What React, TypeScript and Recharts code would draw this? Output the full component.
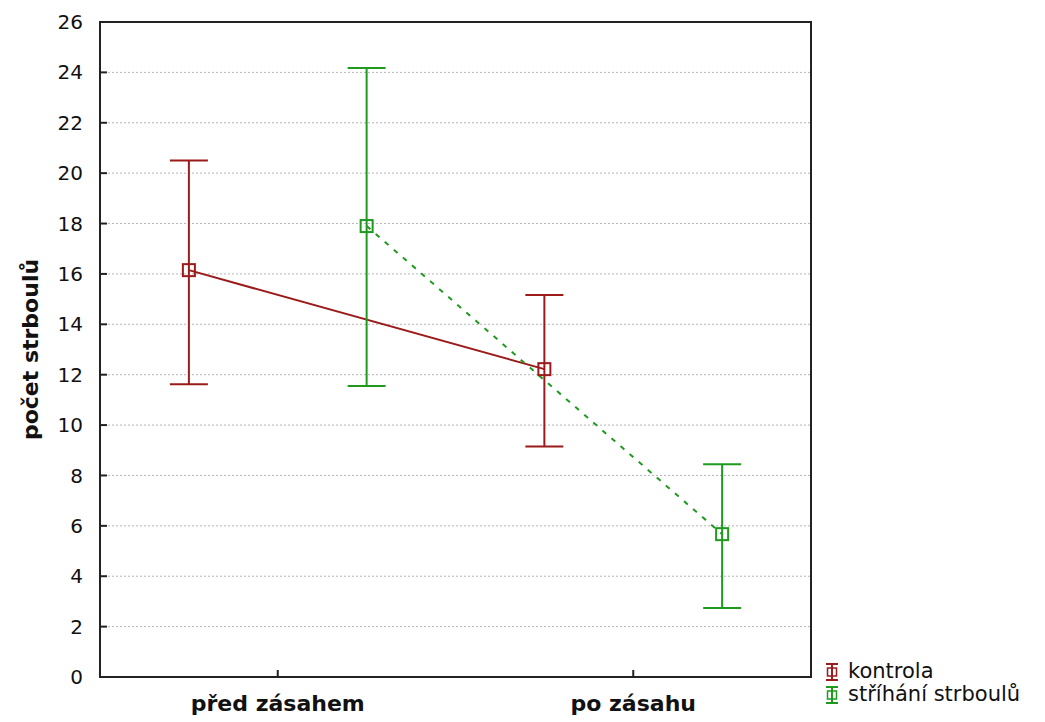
import { CartesianGrid, ComposedChart, ErrorBar, Legend, Line, ReferenceArea, XAxis, YAxis } from "recharts";

const groups = ["před zásahem", "po zásahu"];
const groupX = [1, 3];

const kontrolaMean = [16.15, 12.22];
const kontrolaLow = [11.62, 9.15];
const kontrolaHigh = [20.5, 15.16];

const strihaniMean = [17.9, 5.67];
const strihaniLow = [11.55, 2.74];
const strihaniHigh = [24.17, 8.45];

const yTicks = [0, 2, 4, 6, 8, 10, 12, 14, 16, 18, 20, 22, 24, 26];

const RED = "#9b1b1b";
const GREEN = "#1f9a1f";
const FONT = "'DejaVu Sans', Verdana, sans-serif";

// skupiny jsou posunuty o pul jednotky doleva / doprava
function build(mean: number[], low: number[], high: number[], shift: number) {
  return mean.map((m, i) => ({ x: groupX[i] + shift, y: m, err: [m - low[i], high[i] - m] }));
}

const kontrola = build(kontrolaMean, kontrolaLow, kontrolaHigh, -0.5);
const strihani = build(strihaniMean, strihaniLow, strihaniHigh, 0.5);

function SquareDot(props: any) {
  const { cx, cy, stroke } = props;
  if (cx == null || cy == null) return null;
  return <rect x={cx - 6} y={cy - 6} width={12} height={12} fill="none" stroke={stroke} strokeWidth={2} />;
}

function LegendIcon({ color }: { color: string }) {
  return (
    <svg width={16} height={20} style={{ marginRight: 8, flexShrink: 0 }}>
      <line x1={2} y1={2} x2={14} y2={2} stroke={color} strokeWidth={2} />
      <line x1={2} y1={18} x2={14} y2={18} stroke={color} strokeWidth={2} />
      <line x1={8} y1={2} x2={8} y2={18} stroke={color} strokeWidth={2} />
      <rect x={3.5} y={6} width={9} height={8} fill="none" stroke={color} strokeWidth={1.5} />
    </svg>
  );
}

function LegendBox() {
  const items = [
    { name: "kontrola", color: RED },
    { name: "stříhání strboulů", color: GREEN },
  ];
  return (
    <div style={{ fontFamily: FONT, fontSize: 21, color: "#111", lineHeight: 1 }}>
      {items.map((it) => (
        <div key={it.name} style={{ display: "flex", alignItems: "center", height: 23, whiteSpace: "nowrap" }}>
          <LegendIcon color={it.color} />
          <span>{it.name}</span>
        </div>
      ))}
    </div>
  );
}

export default function App() {
  return (
    <div style={{ position: "absolute", left: 0, top: 0, width: 1045, height: 722, background: "#fff" }}>
      <ComposedChart width={1045} height={722} margin={{ top: 22, right: 234, bottom: 5, left: 40 }}>
        <CartesianGrid vertical={false} stroke="#b5b5b5" strokeDasharray="2 2" horizontalValues={yTicks.slice(1, -1)} />
        <XAxis
          type="number"
          dataKey="x"
          domain={[0, 4]}
          ticks={groupX}
          tickFormatter={(v: number) => groups[groupX.indexOf(v)] ?? ""}
          height={40}
          axisLine={{ stroke: "#222", strokeWidth: 2 }}
          tickLine={{ stroke: "#222", strokeWidth: 2 }}
          tickSize={-7}
          tickMargin={25}
          tick={{ fill: "#111", fontSize: 22, fontWeight: 700, fontFamily: FONT }}
        />
        <YAxis
          type="number"
          domain={[0, 26]}
          ticks={yTicks}
          interval={0}
          width={60}
          axisLine={{ stroke: "#222", strokeWidth: 2 }}
          tickLine={{ stroke: "#222", strokeWidth: 2 }}
          tickSize={-7}
          tickMargin={24}
          tick={{ fill: "#111", fontSize: 20, fontFamily: FONT }}
          label={{
            value: "počet strboulů",
            angle: -90,
            position: "insideLeft",
            offset: -10,
            style: { textAnchor: "middle", fontSize: 22, fontWeight: 700, fill: "#111", fontFamily: FONT },
          }}
        />
        <YAxis
          yAxisId="r"
          orientation="right"
          type="number"
          domain={[0, 26]}
          ticks={yTicks}
          interval={0}
          width={0}
          axisLine={{ stroke: "#222", strokeWidth: 2 }}
          tickLine={{ stroke: "#222", strokeWidth: 2 }}
          tickSize={-7}
          tick={() => <g />}
        />
        <ReferenceArea x1={0} x2={4} y1={0} y2={26} fill="none" stroke="#222" strokeWidth={2} ifOverflow="visible" />
        <Line
          data={kontrola}
          dataKey="y"
          name="kontrola"
          stroke={RED}
          strokeWidth={2}
          dot={<SquareDot />}
          activeDot={false}
          isAnimationActive={false}
        >
          <ErrorBar dataKey="err" direction="y" width={19} stroke={RED} strokeWidth={2} isAnimationActive={false} />
        </Line>
        <Line
          data={strihani}
          dataKey="y"
          name="stříhání strboulů"
          stroke={GREEN}
          strokeWidth={2}
          strokeDasharray="5 7"
          dot={<SquareDot />}
          activeDot={false}
          isAnimationActive={false}
        >
          <ErrorBar dataKey="err" direction="y" width={19} stroke={GREEN} strokeWidth={2} isAnimationActive={false} />
        </Line>
        <Legend
          layout="vertical"
          align="center"
          verticalAlign="middle"
          content={() => <LegendBox />}
          wrapperStyle={{ position: "absolute", left: 824, top: 660, width: 221 }}
        />
      </ComposedChart>
    </div>
  );
}
